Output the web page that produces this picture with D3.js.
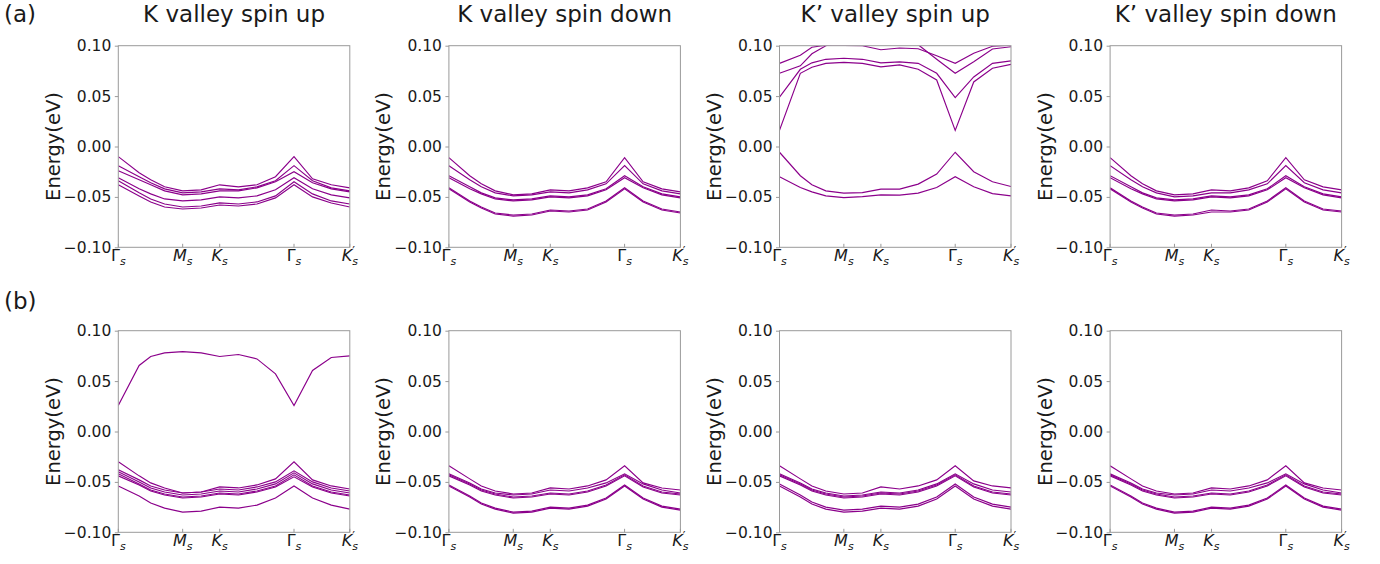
<!DOCTYPE html>
<html><head><meta charset="utf-8">
<script src="https://cdn.jsdelivr.net/npm/d3@7"></script>
<style>
html,body{margin:0;padding:0;background:#fff;}
svg{display:block;font-family:"DejaVu Sans",sans-serif;}
</style></head>
<body>
<svg id="chart" width="1380" height="564"></svg>
<script>
// ---- data ----
const kPath = [0, 0.09, 0.14, 0.20, 0.278, 0.358, 0.438, 0.519, 0.599, 0.679, 0.759, 0.839, 0.920, 1.0];
const tickPos = [0, 0.278, 0.438, 0.759, 1.0];
const tickLabels = [["Γ","s",""],["M","s",""],["K","s",""],["Γ","s",""],["K","s","′"]];
const tickItalic = [false, true, true, false, true];
const yTicks = [-0.10, -0.05, 0.00, 0.05, 0.10];
const titles = ["K valley spin up", "K valley spin down", "K’ valley spin up", "K’ valley spin down"];
const rowLabels = ["(a)", "(b)"];
const yLabel = "Energy(eV)";

const bandsA1 = [
  [-0.010,-0.026,-0.033,-0.040,-0.044,-0.043,-0.038,-0.040,-0.038,-0.030,-0.010,-0.032,-0.038,-0.041],
  [-0.019,-0.030,-0.036,-0.042,-0.046,-0.045,-0.042,-0.043,-0.040,-0.034,-0.019,-0.034,-0.041,-0.044],
  [-0.024,-0.033,-0.038,-0.044,-0.048,-0.047,-0.044,-0.044,-0.041,-0.035,-0.025,-0.036,-0.042,-0.045],
  [-0.031,-0.042,-0.047,-0.052,-0.054,-0.053,-0.050,-0.051,-0.049,-0.043,-0.031,-0.042,-0.048,-0.051],
  [-0.034,-0.046,-0.052,-0.057,-0.060,-0.059,-0.056,-0.057,-0.055,-0.049,-0.035,-0.047,-0.054,-0.057],
  [-0.038,-0.049,-0.055,-0.060,-0.062,-0.061,-0.058,-0.059,-0.057,-0.051,-0.038,-0.050,-0.056,-0.060]
];
const bandsA2 = [
  [-0.011,-0.029,-0.037,-0.044,-0.048,-0.047,-0.043,-0.044,-0.041,-0.035,-0.011,-0.035,-0.042,-0.045],
  [-0.019,-0.033,-0.040,-0.046,-0.049,-0.048,-0.045,-0.046,-0.043,-0.037,-0.019,-0.037,-0.044,-0.047],
  [-0.029,-0.040,-0.046,-0.051,-0.053,-0.052,-0.049,-0.050,-0.048,-0.042,-0.029,-0.040,-0.047,-0.050],
  [-0.031,-0.042,-0.047,-0.052,-0.054,-0.053,-0.050,-0.051,-0.049,-0.043,-0.031,-0.041,-0.048,-0.051],
  [-0.041,-0.054,-0.060,-0.066,-0.068,-0.067,-0.063,-0.064,-0.062,-0.054,-0.041,-0.054,-0.062,-0.065],
  [-0.042,-0.055,-0.061,-0.067,-0.069,-0.068,-0.064,-0.065,-0.063,-0.055,-0.042,-0.055,-0.063,-0.066]
];
const bandsA3 = [
  [0.0825, 0.0905, 0.0985, 0.1005, 0.1003, 0.1000, 0.0960, 0.0977, 0.0970, 0.0900, 0.0825, 0.0925, 0.0995, 0.1005],
  [0.0726, 0.0800, 0.0920, 0.1000, 0.1040, 0.1050, 0.1030, 0.1040, 0.1010, 0.0865, 0.0726, 0.0840, 0.0967, 0.0990],
  [0.0490, 0.0766, 0.0830, 0.0865, 0.0875, 0.0865, 0.0830, 0.0840, 0.0825, 0.0726, 0.0485, 0.0690, 0.0825, 0.0850],
  [0.0160, 0.0726, 0.0786, 0.0825, 0.0835, 0.0825, 0.0790, 0.0810, 0.0766, 0.0660, 0.0160, 0.0640, 0.0776, 0.0815],
  [-0.0057,-0.0290,-0.0380,-0.0440,-0.0463,-0.0457,-0.0423,-0.0423,-0.0373,-0.0273,-0.0057,-0.0250,-0.0350,-0.0397],
  [-0.0300,-0.0407,-0.0450,-0.0490,-0.0507,-0.0497,-0.0480,-0.0483,-0.0463,-0.0407,-0.0300,-0.0400,-0.0467,-0.0490]
];
const bandsA4 = [
  [-0.011,-0.029,-0.037,-0.044,-0.048,-0.047,-0.043,-0.044,-0.041,-0.034,-0.011,-0.033,-0.040,-0.043],
  [-0.019,-0.033,-0.040,-0.046,-0.050,-0.049,-0.046,-0.046,-0.043,-0.037,-0.019,-0.036,-0.043,-0.046],
  [-0.029,-0.040,-0.046,-0.051,-0.053,-0.052,-0.049,-0.050,-0.048,-0.042,-0.029,-0.040,-0.047,-0.050],
  [-0.031,-0.042,-0.047,-0.052,-0.054,-0.053,-0.050,-0.051,-0.049,-0.043,-0.031,-0.041,-0.048,-0.051],
  [-0.041,-0.054,-0.060,-0.066,-0.068,-0.067,-0.063,-0.064,-0.062,-0.054,-0.041,-0.054,-0.062,-0.064],
  [-0.042,-0.055,-0.061,-0.067,-0.069,-0.068,-0.065,-0.065,-0.063,-0.055,-0.042,-0.055,-0.063,-0.065]
];
const bandsB1 = [
  [0.0258, 0.0655, 0.0744, 0.0780, 0.0793, 0.0780, 0.0744, 0.0764, 0.0720, 0.0572, 0.0258, 0.0605, 0.0734, 0.0750],
  [-0.030,-0.044,-0.051,-0.056,-0.061,-0.060,-0.055,-0.056,-0.053,-0.047,-0.030,-0.048,-0.054,-0.057],
  [-0.038,-0.048,-0.054,-0.058,-0.061,-0.060,-0.057,-0.058,-0.055,-0.050,-0.039,-0.050,-0.056,-0.059],
  [-0.040,-0.050,-0.056,-0.060,-0.063,-0.062,-0.059,-0.060,-0.057,-0.052,-0.041,-0.052,-0.058,-0.061],
  [-0.042,-0.052,-0.058,-0.062,-0.065,-0.064,-0.061,-0.062,-0.059,-0.054,-0.043,-0.054,-0.060,-0.063],
  [-0.044,-0.053,-0.059,-0.063,-0.066,-0.065,-0.062,-0.063,-0.060,-0.055,-0.045,-0.055,-0.061,-0.064],
  [-0.054,-0.064,-0.071,-0.076,-0.080,-0.079,-0.075,-0.076,-0.073,-0.066,-0.054,-0.066,-0.073,-0.077]
];
const bandsB2 = [
  [-0.034,-0.047,-0.054,-0.059,-0.062,-0.061,-0.056,-0.057,-0.054,-0.048,-0.034,-0.051,-0.056,-0.058],
  [-0.042,-0.051,-0.057,-0.061,-0.063,-0.062,-0.058,-0.059,-0.056,-0.051,-0.042,-0.052,-0.058,-0.061],
  [-0.043,-0.052,-0.058,-0.062,-0.065,-0.064,-0.061,-0.062,-0.059,-0.053,-0.043,-0.054,-0.060,-0.062],
  [-0.044,-0.053,-0.059,-0.063,-0.066,-0.065,-0.062,-0.063,-0.060,-0.054,-0.044,-0.055,-0.061,-0.063],
  [-0.053,-0.064,-0.071,-0.076,-0.080,-0.079,-0.075,-0.076,-0.073,-0.066,-0.053,-0.066,-0.074,-0.077],
  [-0.054,-0.065,-0.072,-0.077,-0.081,-0.080,-0.076,-0.077,-0.074,-0.067,-0.054,-0.067,-0.075,-0.078]
];
const bandsB3 = [
  [-0.034,-0.047,-0.054,-0.059,-0.062,-0.061,-0.055,-0.057,-0.054,-0.048,-0.034,-0.049,-0.054,-0.056],
  [-0.042,-0.051,-0.057,-0.061,-0.064,-0.063,-0.060,-0.061,-0.058,-0.052,-0.042,-0.052,-0.058,-0.060],
  [-0.043,-0.052,-0.058,-0.062,-0.065,-0.064,-0.061,-0.062,-0.059,-0.053,-0.043,-0.054,-0.060,-0.062],
  [-0.044,-0.053,-0.059,-0.063,-0.066,-0.065,-0.062,-0.063,-0.060,-0.054,-0.044,-0.055,-0.061,-0.063],
  [-0.052,-0.063,-0.070,-0.075,-0.078,-0.077,-0.074,-0.075,-0.072,-0.065,-0.052,-0.065,-0.072,-0.075],
  [-0.054,-0.065,-0.072,-0.077,-0.080,-0.079,-0.076,-0.077,-0.074,-0.067,-0.054,-0.067,-0.074,-0.077]
];
const bandsB4 = [
  [-0.034,-0.047,-0.054,-0.059,-0.062,-0.061,-0.056,-0.057,-0.054,-0.048,-0.034,-0.051,-0.056,-0.058],
  [-0.042,-0.051,-0.057,-0.061,-0.063,-0.062,-0.058,-0.059,-0.056,-0.051,-0.042,-0.052,-0.058,-0.061],
  [-0.043,-0.052,-0.058,-0.062,-0.065,-0.064,-0.061,-0.062,-0.059,-0.053,-0.043,-0.054,-0.060,-0.062],
  [-0.044,-0.053,-0.059,-0.063,-0.066,-0.065,-0.062,-0.063,-0.060,-0.054,-0.044,-0.055,-0.061,-0.063],
  [-0.053,-0.064,-0.071,-0.076,-0.080,-0.079,-0.075,-0.076,-0.073,-0.066,-0.053,-0.066,-0.074,-0.077],
  [-0.054,-0.065,-0.072,-0.077,-0.081,-0.080,-0.076,-0.077,-0.074,-0.067,-0.054,-0.067,-0.075,-0.078]
];
const panelBands = [[bandsA1, bandsA2, bandsA3, bandsA4], [bandsB1, bandsB2, bandsB3, bandsB4]];

// ---- layout ----
const colLeft0 = 118.3, colStep = 330.6, axW = 231.5;
const rowTops = [45.7, 330.7], axH = 201.6;
const lineColor = "#8b008b", spineColor = "#9a9a9a", textColor = "#1a1a1a";

const svg = d3.select("#chart");
const fmt = v => (v < -1e-9 ? "\u2212" : "") + Math.abs(v).toFixed(2);

rowLabels.forEach((lab, r) => {
  svg.append("text").attr("x", 4).attr("y", r === 0 ? 22 : 309)
    .attr("font-size", 23).attr("fill", textColor).text(lab);
});

panelBands.forEach((row, r) => {
  row.forEach((bands, c) => {
    const left = colLeft0 + c * colStep, top = rowTops[r];
    const x = d3.scaleLinear().domain([0, 1]).range([0, axW]);
    const y = d3.scaleLinear().domain([-0.10, 0.10]).range([axH, 0]);
    const g = svg.append("g").attr("transform", `translate(${left},${top})`);
    const clipId = `clip-${r}-${c}`;
    g.append("clipPath").attr("id", clipId).append("rect")
      .attr("x", 0).attr("y", 0).attr("width", axW).attr("height", axH);

    // bands
    const line = d3.line().x((d, i) => x(kPath[i])).y(d => y(d));
    g.append("g").attr("clip-path", `url(#${clipId})`)
      .selectAll("path").data(bands).join("path")
      .attr("d", line).attr("fill", "none")
      .attr("stroke", lineColor).attr("stroke-width", 1.15)
      .attr("stroke-linejoin", "miter");

    // frame
    g.append("rect").attr("x", 0).attr("y", 0).attr("width", axW).attr("height", axH)
      .attr("fill", "none").attr("stroke", spineColor).attr("stroke-width", 1);

    // y axis
    const ya = g.append("g").call(d3.axisLeft(y).tickValues(yTicks).tickFormat(fmt).tickSize(3.5).tickPadding(3.5));
    ya.select(".domain").remove();
    ya.selectAll(".tick line").attr("stroke", spineColor);
    ya.selectAll(".tick text").attr("font-size", 15.5).attr("fill", textColor)
      .attr("font-family", "DejaVu Sans");

    // x ticks (inward)
    const xa = g.append("g");
    tickPos.forEach((p, i) => {
      xa.append("line").attr("x1", x(p)).attr("x2", x(p)).attr("y1", axH).attr("y2", axH - 3.5)
        .attr("stroke", spineColor);
      const lab = tickLabels[i];
      const t = xa.append("text").attr("x", x(p)).attr("y", axH + 13.5)
        .attr("text-anchor", "middle").attr("fill", textColor)
        .attr("font-family", "DejaVu Sans");
      t.append("tspan").attr("font-size", 16)
        .attr("font-style", tickItalic[i] ? "italic" : "normal").text(lab[0]);
      t.append("tspan").attr("font-size", 11).attr("font-style", "italic")
        .attr("dy", 4).text(lab[1]);
      if (lab[2]) {
        // prime placed above the subscript
        const bb = t.node().getBBox();
        xa.append("text").attr("x", bb.x + bb.width - 6).attr("y", axH + 8)
          .attr("font-size", 12).attr("fill", textColor)
          .attr("font-family", "DejaVu Sans").text(lab[2]);
      }
    });

    // y label
    g.append("text").attr("transform", `translate(-58.5,${axH / 2}) rotate(-90)`)
      .attr("text-anchor", "middle").attr("font-size", 19.5).attr("fill", textColor)
      .text(yLabel);

    // title
    if (r === 0) {
      g.append("text").attr("x", axW / 2).attr("y", 22 - top)
        .attr("text-anchor", "middle").attr("font-size", 23).attr("fill", textColor)
        .text(titles[c]);
    }
  });
});
</script>
</body></html>
